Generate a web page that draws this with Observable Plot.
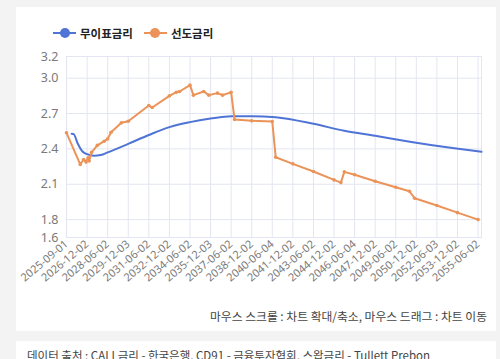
<!DOCTYPE html>
<html><head><meta charset="utf-8">
<script src="https://cdn.jsdelivr.net/npm/d3@7"></script>
<script src="https://cdn.jsdelivr.net/npm/@observablehq/plot@0.6"></script>
<style>
html,body{margin:0;padding:0}
body{background:#f3f3f3;font-family:"Noto Sans CJK KR","Noto Sans",sans-serif;width:500px;height:359px;overflow:hidden;position:relative}
.card{position:absolute;left:16px;top:7px;width:480px;height:324px;background:#fff}
.card2{position:absolute;left:16px;top:341px;width:480px;height:40px;background:#fff}
#chart{position:absolute;left:0;top:0}
.legend{position:absolute;top:25px;left:53px;display:flex;align-items:center;font-size:11.5px;font-weight:700;color:#222}
.item{display:flex;align-items:center;margin-right:11px}
.sym{position:relative;width:23px;height:10px;margin-right:4px}
.sym .ln{position:absolute;left:0;right:0;top:4px;height:2px}
.sym .ci{position:absolute;left:6.5px;top:0;width:10px;height:10px;border-radius:50%}
.hint{position:absolute;right:13px;top:307px;font-size:11.8px;color:#444;white-space:nowrap}
.src{position:absolute;left:27px;top:347px;font-size:11.5px;color:#444;white-space:nowrap}
</style></head>
<body>
<div class="card"></div>
<div class="card2"></div>
<div id="chart"></div>
<div class="legend" id="legend"></div>
<div class="hint">마우스 스크롤 : 차트 확대/축소, 마우스 드래그 : 차트 이동</div>
<div class="src">데이터 출처 : CALL금리 - 한국은행, CD91 - 금융투자협회, 스왑금리 - Tullett Prebon</div>
<script>
// Category tick labels (every 6th category on the axis)
const tickLabels = ["2025-09-01","2026-12-02","2028-06-02","2029-12-03","2031-06-02","2032-12-02","2034-06-02","2035-12-03","2037-06-02","2038-12-02","2040-06-04","2041-12-02","2043-06-02","2044-12-02","2046-06-04","2047-12-02","2049-06-02","2050-12-02","2052-06-03","2053-12-02","2055-06-02"];
const seriesNames = ["무이표금리","선도금리"];
const seriesColors = ["#4f74d6","#eb9358"];
const yTicks = [1.648, 1.8, 2.1, 2.4, 2.7, 3.0, 3.184];
const lastCategory = 121;

// 무이표금리 (category index, value)
const zeroIdx = [1.5, 2.1, 3.2, 4.6, 6, 8, 10, 12, 18, 24, 30, 36, 42, 48, 54, 61, 72, 81, 90, 101, 112, 121];
const zeroVal = [2.528, 2.525, 2.45, 2.38, 2.355, 2.342, 2.348, 2.37, 2.443, 2.518, 2.585, 2.627, 2.657, 2.677, 2.678, 2.669, 2.613, 2.553, 2.511, 2.457, 2.409, 2.375];

// 선도금리 (category index, value)
const fwdIdx = [0, 4, 5, 5.7, 6.3, 6.6, 7.3, 9, 11, 12, 13, 16, 18, 24, 25, 30, 32, 33, 36, 37, 40, 41.5, 44, 45.5, 48, 49, 54, 60, 61, 66, 72, 78, 80, 81, 84, 90, 96, 100, 101.5, 108, 114, 120];
const fwdVal = [2.536, 2.268, 2.31, 2.288, 2.325, 2.297, 2.37, 2.43, 2.465, 2.485, 2.541, 2.621, 2.635, 2.768, 2.751, 2.85, 2.881, 2.887, 2.941, 2.856, 2.887, 2.856, 2.873, 2.856, 2.881, 2.649, 2.638, 2.632, 2.329, 2.273, 2.208, 2.137, 2.114, 2.205, 2.18, 2.125, 2.074, 2.04, 1.981, 1.919, 1.859, 1.80];

const zero = zeroIdx.map((x, i) => ({x, y: zeroVal[i]}));
const fwd = fwdIdx.map((x, i) => ({x, y: fwdVal[i]}));
const xTicks = tickLabels.map((_, i) => i * 6);
const grid = "#e3e6f2";

const chart = Plot.plot({
  width: 500, height: 300,
  marginLeft: 66, marginRight: 19, marginTop: 56, marginBottom: 63,
  style: {background: "transparent", fontFamily: "'Noto Sans', 'DejaVu Sans', sans-serif", fontSize: "12px", color: "#7a7a7a"},
  x: {domain: [0, lastCategory], axis: null},
  y: {domain: [yTicks[0], yTicks[yTicks.length - 1]], axis: null},
  marks: [
    Plot.ruleY(yTicks, {stroke: grid, strokeWidth: 1}),
    Plot.ruleX(xTicks, {stroke: grid, strokeWidth: 1}),
    Plot.frame({stroke: grid}),
    Plot.axisY(yTicks, {label: null, tickSize: 0, tickPadding: 8, tickFormat: d => d.toFixed(1), fill: "#7a7a7a", fontSize: 12.5}),
    Plot.axisX(xTicks, {label: null, tickSize: 0, tickPadding: 5, tickRotate: -40, tickFormat: d => tickLabels[d / 6], fill: "#7a7a7a", fontSize: 11}),
    Plot.line(zero, {x: "x", y: "y", stroke: seriesColors[0], strokeWidth: 2, curve: "monotone-x"}),
    Plot.line(fwd, {x: "x", y: "y", stroke: seriesColors[1], strokeWidth: 2}),
    Plot.dot(fwd, {x: "x", y: "y", r: 1.8, fill: seriesColors[1]})
  ]
});
document.getElementById("chart").appendChild(chart);

const lg = document.getElementById("legend");
seriesNames.forEach((n, i) => {
  const it = document.createElement("div");
  it.className = "item";
  it.innerHTML = `<div class="sym"><div class="ln" style="background:${seriesColors[i]}"></div><div class="ci" style="background:${seriesColors[i]}"></div></div><span>${n}</span>`;
  lg.appendChild(it);
});
</script>
</body></html>
